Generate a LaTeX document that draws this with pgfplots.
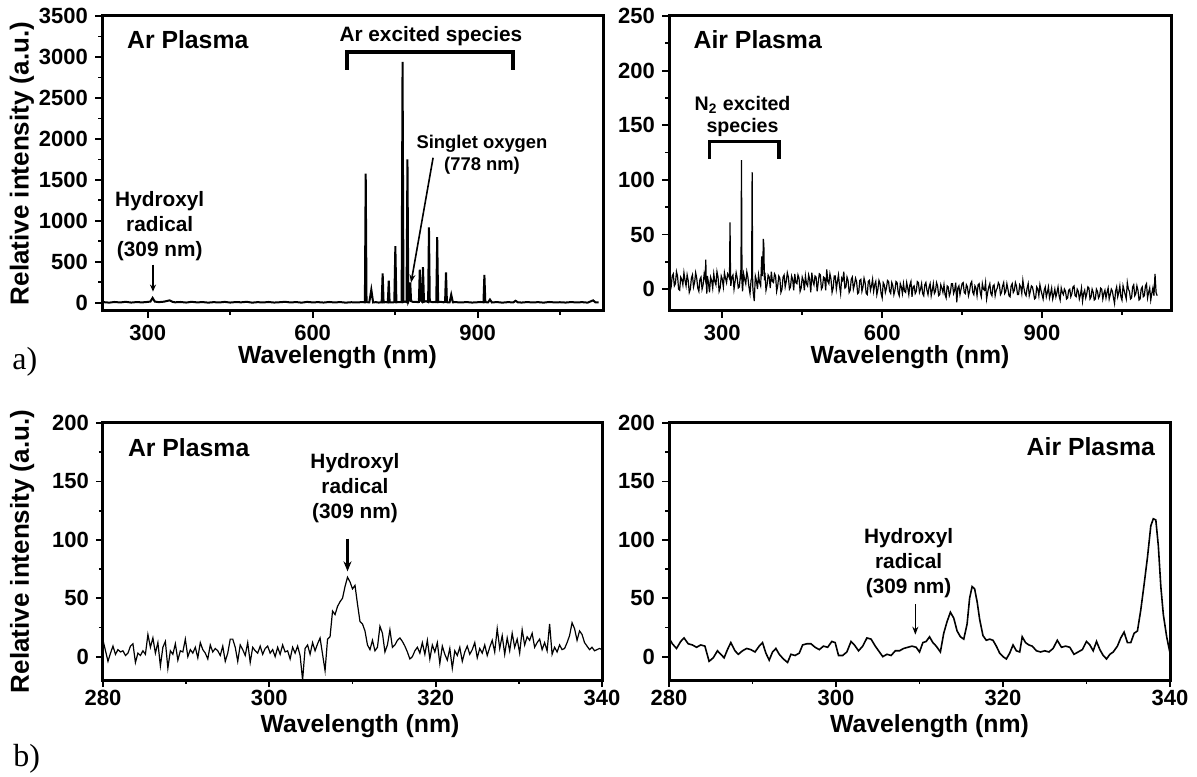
\documentclass[border=0pt]{standalone}
\usepackage{fontspec}
\setmainfont{Liberation Sans}
\newfontfamily\panelfont{Liberation Serif}
\usepackage{pgfplots}
\pgfplotsset{compat=1.18}
\usetikzlibrary{arrows.meta}

\pgfplotsset{
  spec/.style={
    scale only axis,
    axis line style={line width=1.5pt},
    tick style={black, line width=0.9pt},
    tick align=outside,
    xtick pos=bottom, ytick pos=left,
    major tick length=3.5pt,
    minor tick length=2pt,
    minor tick num=1,
    tick label style={font=\bfseries\fontsize{11}{13}\selectfont},
    xlabel style={font=\bfseries\fontsize{12.4}{14}\selectfont, anchor=center},
    ylabel style={font=\bfseries\fontsize{13}{15}\selectfont, anchor=center},
    /pgf/number format/assume math mode=true,
    /pgf/number format/1000 sep={},
  },
}
\tikzset{
  note/.style={font=\bfseries\fontsize{10.4}{12.5}\selectfont, align=center},
  big/.style={font=\bfseries\fontsize{12.4}{14}\selectfont},
}

\begin{document}
\begin{tikzpicture}
\useasboundingbox (0,0) rectangle (598.5pt,388pt);

% ---------------- a) Ar plasma, full range ----------------
\begin{axis}[spec,
  at={(51pt,232.5pt)}, anchor=south west,
  width=250.5pt, height=147.5pt,
  xmin=217, xmax=1128, ymin=-100, ymax=3500,
  xtick={300,600,900}, minor xtick={450,750,1050},
  ytick={0,500,...,3500},
  xlabel={Wavelength (nm)}, ylabel={Relative intensity (a.u.)},
  xlabel style={at={(axis description cs:0.47,-0.155)}},
  ylabel style={at={(axis description cs:-0.16,0.5)}},
]
\addplot[black, line width=1pt, no marks] table {
220 8
230 2
240 10
250 4
260 12
270 3
280 9
290 5
300 11
305 15
309 60
313 15
320 8
330 14
340 30
345 12
350 6
360 10
370 3
380 12
390 5
400 9
410 2
420 8
430 4
440 11
450 3
460 9
470 6
480 12
490 2
500 8
510 4
520 10
530 3
540 7
550 12
560 4
570 9
580 2
590 11
600 5
610 8
620 3
630 10
640 4
650 9
660 2
670 7
680 5
690 8
695 6
696.5 1575
698 8
703 5
706.7 160
710 4
715 8
720 3
725.5 6
727.3 360
729 5
733 8
736.7 5
738.4 270
740 6
745 4
748.5 8
750.4 690
752.3 6
757 9
761.8 7
763.5 2940
765.2 10
768 15
770.7 8
772.4 1750
774 12
776 40
777.5 250
779 20
783 10
787 12
791 8
793.2 10
794.8 405
796.5 30
798.8 15
800.6 435
802.5 12
806 20
810 9
811.5 920
813 15
818 8
822 10
824.8 9
826.5 800
828.2 8
833 12
838 6
840.8 10
842.5 370
844.2 7
849 5
852 100
855 6
860 8
870 4
880 9
890 3
900 7
905 10
910.6 6
912.3 340
914 8
919 5
922.4 40
926 4
935 9
945 2
955 8
965 5
969 25
973 6
980 3
990 9
1000 4
1010 8
1020 2
1030 10
1040 5
1050 7
1060 3
1070 9
1080 4
1090 8
1100 2
1110 30
1114 6
1120 4
};
\node[big, anchor=west] at (rel axis cs:0.036,0.919) {Ar Plasma};
\node[note] at (axis cs:815,3256) {Ar excited species};
\draw[line width=1.8pt] (axis cs:662,2842) -- (axis cs:662,3061) -- (axis cs:964,3061) -- (axis cs:964,2842);
\node[note, font=\bfseries\fontsize{9.2}{11}\selectfont] at (axis cs:908,1806) {Singlet oxygen\\(778 nm)};
\draw[line width=0.8pt, -{Stealth[length=4pt,width=3pt]}] (axis cs:819,1770) -- (axis cs:779,247);
\node[note] at (axis cs:322,933) {Hydroxyl\\radical\\(309 nm)};
\draw[line width=0.7pt, -{Stealth[length=3.5pt,width=3pt]}] (axis cs:309.7,466) -- (axis cs:309.7,137);
\end{axis}

% ---------------- a) Air plasma, full range ----------------
\begin{axis}[spec,
  at={(334.5pt,232.5pt)}, anchor=south west,
  width=251pt, height=147.5pt,
  xmin=200, xmax=1142, ymin=-20, ymax=250,
  xtick={300,600,900}, minor xtick={450,750,1050},
  ytick={0,50,...,250},
  xlabel={Wavelength (nm)},
  xlabel style={at={(axis description cs:0.48,-0.155)}},
]
\addplot[black, line width=0.6pt, no marks] table {
200 10
202 -2
204 2
206 12
208 14
210 3
212 5
214 16
216 12
218 0
220 -1
222 11
224 9
226 4
228 15
230 8
232 3
234 13
236 8
238 -3
240 0
242 10
244 13
246 2
248 6
250 15
252 10
254 1
256 -2
258 9
260 11
262 0
264 4
266 14
268 9
269 27
270 5
271 -4
272 12
274 6
276 -3
278 11
280 8
282 1
284 14
286 7
288 4
290 16
292 11
294 -2
296 1
298 12
300 9
302 2
304 15
306 10
308 6
310 14
312 12
313.5 10
314.5 61
315.5 8
316 3
318 11
320 13
322 0
324 7
326 15
328 10
330 1
332 2
334 13
335 9
336 118
337 6
338 -2
340 14
342 9
344 5
346 16
348 11
350 2
352 -4
354 8
355 10
356 107
357 4
358 -3
360 -11
362 12
364 8
366 0
368 13
370 6
372 3
374 30
375 12
376 20
377 46
378 40
379 8
380 15
382 -1
384 4
386 13
388 11
390 1
392 16
394 7
396 6
398 14
400 12
402 -2
404 3
406 12
408 10
410 -3
412 0
414 11
416 13
418 2
420 7
422 15
424 11
426 0
428 2
430 12
432 9
434 -1
436 14
438 6
440 5
442 13
444 10
446 -2
448 1
450 11
452 8
454 -1
456 12
458 5
460 3
462 13
464 9
466 -3
468 15
470 7
472 4
474 12
476 11
478 -2
480 6
482 14
484 13
486 0
488 2
490 11
492 10
494 -1
496 18
498 7
500 5
502 14
504 9
506 -3
508 1
510 12
512 12
514 0
516 7
518 13
520 3
522 -4
524 10
526 8
528 16
530 1
532 2
534 11
536 8
538 -3
540 -1
542 9
544 11
546 0
548 4
550 10
552 7
554 -4
556 -3
558 8
560 9
562 -2
564 2
566 10
568 6
570 -4
572 -5
574 7
576 8
578 -1
580 3
582 9
584 -2
586 4
588 7
590 -5
592 0
594 8
596 5
598 -4
600 -8
602 6
604 4
606 -3
608 1
610 8
612 7
614 -2
616 -4
618 6
620 3
622 -5
624 -1
626 7
628 6
630 -3
632 -6
634 5
636 2
638 -4
640 5
642 -2
644 -3
646 6
648 1
650 -5
652 4
654 7
656 -7
658 2
660 3
662 -4
664 -2
666 7
668 6
670 -3
672 0
674 5
676 -4
678 -6
680 4
682 6
684 -1
686 -5
688 2
690 5
692 -6
694 -1
696 5
698 -4
700 -2
702 6
704 3
706 -6
708 -5
710 4
712 1
714 -3
716 4
718 -5
720 -8
722 3
724 2
726 -6
728 -3
730 5
732 5
734 -4
736 -1
738 6
740 -12
742 1
744 3
746 -5
748 0
750 5
752 6
754 -3
756 -4
758 4
760 2
762 -6
764 -2
766 5
768 7
770 -3
772 -5
774 3
776 1
778 -6
780 4
782 5
784 -3
786 -7
788 5
790 0
792 -1
794 6
796 -9
798 -3
800 2
802 5
804 -4
806 -6
808 3
810 4
812 -6
814 -1
816 1
818 6
820 4
822 -5
824 -3
826 3
828 6
830 -4
832 -2
834 5
836 0
838 -6
840 -7
842 3
844 5
846 -3
848 -1
850 6
852 3
854 -5
856 -5
858 4
860 2
862 -4
864 8
866 1
868 -4
870 -6
872 1
874 5
876 -6
878 -2
880 3
882 2
884 -3
886 -9
888 -8
890 2
892 0
894 -6
896 4
898 -1
900 -5
902 -9
904 -1
906 2
908 -7
910 -3
912 2
914 -8
916 -4
918 1
920 -9
922 -5
924 0
926 -7
928 -3
930 2
932 -6
934 -10
936 1
938 -3
940 -5
942 0
944 -2
946 -9
948 -8
950 -1
952 0
954 -7
956 -4
958 2
960 3
962 -6
964 -7
966 0
968 -2
970 -9
972 -5
974 1
976 -11
978 -4
980 -1
982 -8
984 -4
986 2
988 1
990 -9
992 -7
994 0
996 -3
998 -10
1000 -9
1002 0
1004 -2
1006 -8
1008 -6
1010 1
1012 0
1014 -9
1016 -4
1018 -1
1020 -8
1022 -3
1024 1
1026 -9
1028 -5
1030 0
1032 -2
1034 -8
1036 -13
1038 -2
1040 2
1042 -7
1044 -3
1046 3
1048 -7
1050 -10
1052 3
1054 -1
1056 -5
1058 -9
1060 6
1062 0
1064 -2
1066 -9
1068 -8
1070 2
1072 4
1074 -6
1076 -4
1078 3
1080 -1
1082 -10
1084 -9
1086 0
1088 2
1090 -7
1092 -6
1094 3
1096 5
1098 -8
1100 -3
1102 1
1104 -10
1106 -4
1108 1
1110 -6
1112 14
1114 -3
1116 -6
};
\node[big, anchor=west] at (rel axis cs:0.035,0.92) {Air Plasma};
\node[note, font=\bfseries\fontsize{9.8}{10.6}\selectfont] at (axis cs:338,158) {N\textsubscript{2} excited\\species};
\draw[line width=1.8pt] (axis cs:276,119) -- (axis cs:276,135) -- (axis cs:406,135) -- (axis cs:406,119);
\end{axis}

% ---------------- b) Ar plasma, 280-340 nm ----------------
\begin{axis}[spec,
  at={(51.5pt,48pt)}, anchor=south west,
  width=249.5pt, height=128.5pt,
  xmin=280, xmax=340, ymin=-20, ymax=200,
  xtick={280,300,320,340},
  ytick={0,50,...,200},
  xticklabel style={yshift=2pt},
  xlabel={Wavelength (nm)}, ylabel={Relative intensity (a.u.)},
  xlabel style={at={(axis description cs:0.515,-0.178)}},
  ylabel style={at={(axis description cs:-0.162,0.5)}},
]
\addplot[black, line width=0.6pt, no marks] table {
280.0 14
280.3 5
280.6 -4
280.9 3
281.2 9
281.5 2
281.8 6
282.1 4
282.4 5
282.7 1
283.0 3
283.3 9
283.6 11
283.9 -5
284.2 3
284.5 1
284.8 5
285.1 2
285.4 19
285.7 8
286.0 16
286.3 3
286.6 12
286.9 -8
287.2 8
287.5 13
287.8 -10
288.1 5
288.4 2
288.7 11
289.0 -3
289.3 5
289.6 4
289.9 15
290.2 0
290.5 6
290.8 3
291.1 8
291.4 -1
291.7 12
292.0 6
292.3 3
292.6 -2
292.9 10
293.2 4
293.5 7
293.8 5
294.1 1
294.4 9
294.7 -4
295.0 3
295.3 15
295.6 15
295.9 8
296.2 -4
296.5 10
296.8 6
297.1 1
297.4 12
297.7 -5
298.0 8
298.3 5
298.6 3
298.9 9
299.2 2
299.5 7
299.8 9
300.1 3
300.4 6
300.7 0
301.0 8
301.3 2
301.6 10
301.9 4
302.2 5
302.5 -2
302.8 8
303.1 3
303.4 9
303.7 1
304.0 -20
304.3 7
304.6 10
304.9 2
305.2 12
305.5 5
305.8 11
306.1 16
306.4 2
306.7 -12
307.0 15
307.3 17
307.6 39
307.9 36
308.2 43
308.5 47
308.8 50
309.1 60
309.4 68
309.7 64
310.0 58
310.3 61
310.6 45
310.9 30
311.2 28
311.5 22
311.8 10
312.1 6
312.4 14
312.7 5
313.0 8
313.3 26
313.6 20
313.9 4
314.2 10
314.5 23
314.8 8
315.1 10
315.4 14
315.7 16
316.0 13
316.3 9
316.6 4
316.9 -2
317.2 0
317.5 5
317.8 8
318.1 3
318.4 12
318.7 2
319.0 14
319.3 -2
319.6 10
319.9 4
320.2 12
320.5 -6
320.8 9
321.1 2
321.4 -3
321.7 7
322.0 -10
322.3 5
322.6 1
322.9 8
323.2 -4
323.5 4
323.8 9
324.1 2
324.4 6
324.7 12
325.0 -1
325.3 7
325.6 3
325.9 10
326.2 1
326.5 8
326.8 14
327.1 4
327.4 24
327.7 7
328.0 18
328.3 2
328.6 16
328.9 5
329.2 20
329.5 8
329.8 15
330.1 3
330.4 23
330.7 10
331.0 17
331.3 14
331.6 20
331.9 8
332.2 12
332.5 15
332.8 6
333.1 12
333.4 5
333.7 28
334.0 2
334.3 8
334.6 4
334.9 10
335.2 6
335.5 7
335.8 12
336.1 18
336.4 29
336.7 24
337.0 14
337.3 22
337.6 19
337.9 12
338.2 9
338.5 6
338.8 8
339.1 5
339.4 6
339.7 7
340.0 6
};
\node[big, anchor=west] at (rel axis cs:0.036,0.903) {Ar Plasma};
\node[note] at (axis cs:310.3,144) {Hydroxyl\\radical\\(309 nm)};
\draw[line width=1.1pt, -{Stealth[length=5pt,width=4pt]}] (axis cs:309.4,101) -- (axis cs:309.4,73);
\end{axis}

% ---------------- b) Air plasma, 280-340 nm ----------------
\begin{axis}[spec,
  at={(334.5pt,48pt)}, anchor=south west,
  width=250.5pt, height=128.5pt,
  xmin=280, xmax=340, ymin=-20, ymax=200,
  xtick={280,300,320,340},
  ytick={0,50,...,200},
  xticklabel style={yshift=2pt},
  xlabel={Wavelength (nm)},
  xlabel style={at={(axis description cs:0.52,-0.178)}},
]
\addplot[black, line width=0.8pt, no marks] table {
280.0 16
280.4 11
280.9 7
281.4 13
281.8 16
282.3 11
282.8 10
283.3 8
283.8 10
284.3 9
284.8 -4
285.3 -1
285.8 5
286.2 2
286.6 -1
287.0 6
287.4 12
287.9 5
288.3 2
288.8 5
289.3 7
289.8 6
290.3 4
290.8 9
291.2 12
291.6 3
292.0 -3
292.4 4
292.8 7
293.2 2
293.7 -2
294.2 -5
294.6 2
295.1 1
295.6 3
296.0 10
296.5 11
297.0 11
297.5 8
298.0 6
298.5 9
299.0 8
299.5 13
299.9 12
300.3 1
300.8 1
301.3 4
301.8 13
302.2 10
302.7 5
303.2 9
303.7 16
304.2 15
304.7 9
305.2 4
305.6 0
306.1 2
306.6 1
307.1 5
307.6 5
308.1 7
308.6 8
309.1 9
309.6 8
310.0 4
310.4 12
310.8 13
311.2 17
311.6 12
312.0 9
312.5 4
312.9 20
313.3 30
313.7 38
314.1 33
314.5 22
314.9 17
315.3 15
315.7 28
316.0 50
316.3 60
316.6 58
316.9 47
317.2 32
317.6 18
318.0 14
318.4 15
318.8 14
319.2 9
319.6 3
320.0 0
320.4 -2
320.8 3
321.2 10
321.6 5
322.0 4
322.3 17
322.7 12
323.1 10
323.5 9
324.0 5
324.5 4
325.0 5
325.5 4
326.0 7
326.5 14
327.0 8
327.5 9
328.0 8
328.5 2
329.0 4
329.5 6
330.0 13
330.4 10
330.8 5
331.2 13
331.6 6
332.0 1
332.4 -2
332.8 2
333.2 4
333.7 9
334.1 16
334.5 21
334.9 12
335.3 12
335.7 20
336.1 22
336.5 40
336.9 62
337.3 85
337.7 112
338.0 118
338.3 117
338.6 95
338.9 60
339.2 36
339.6 17
340.0 3
};
\node[big, anchor=east] at (rel axis cs:0.984,0.908) {Air Plasma};
\node[note] at (axis cs:308.7,80) {Hydroxyl\\radical\\(309 nm)};
\draw[line width=0.7pt, -{Stealth[length=4pt,width=3pt]}] (axis cs:309.5,44.7) -- (axis cs:309.5,18.8);
\end{axis}

\node[font=\panelfont\fontsize{16}{18}\selectfont, anchor=base west, inner sep=0pt] at (6pt,203pt) {a)};
\node[font=\panelfont\fontsize{16}{18}\selectfont, anchor=base west, inner sep=0pt] at (6.5pt,5pt) {b)};
\end{tikzpicture}
\end{document}
